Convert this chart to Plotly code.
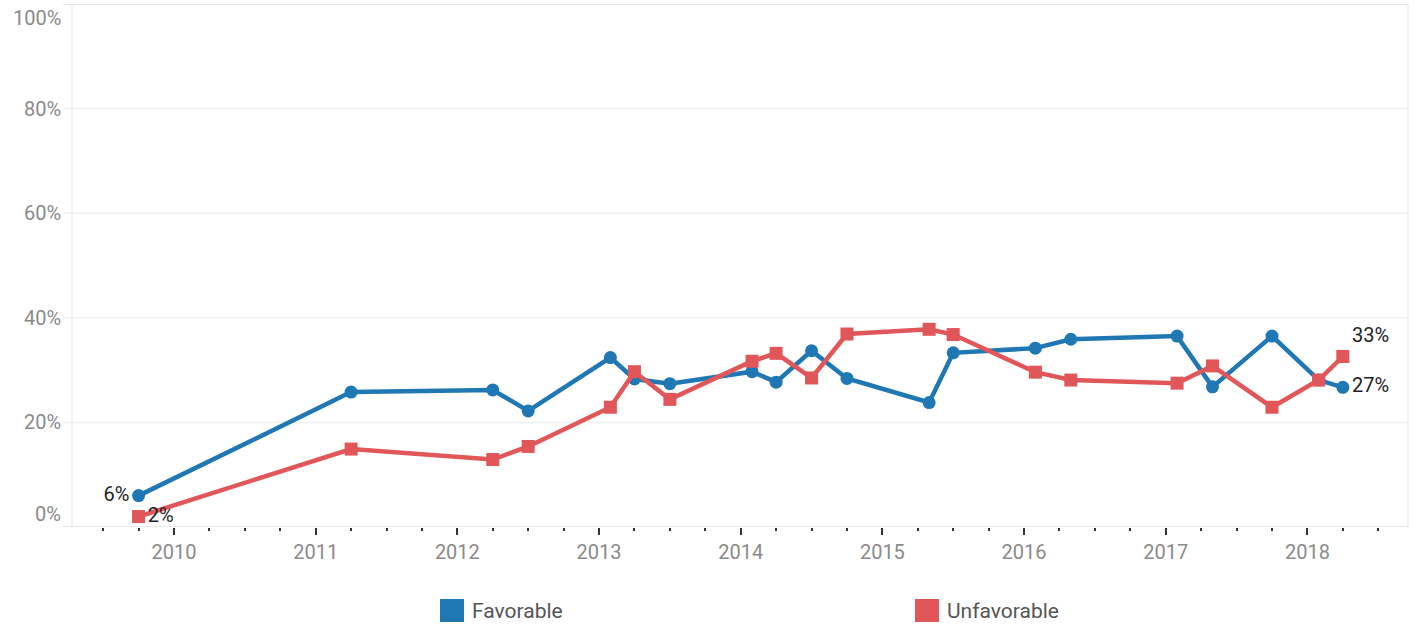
import plotly.graph_objects as go

# ---- data ----
fav_x = [2009.75, 2011.25, 2012.25, 2012.5, 2013.08, 2013.25, 2013.5, 2014.08, 2014.25, 2014.5,
         2014.75, 2015.33, 2015.5, 2016.08, 2016.33, 2017.08, 2017.33, 2017.75, 2018.08, 2018.25]
fav_y = [6.0, 25.8, 26.2, 22.2, 32.4, 28.3, 27.4, 29.7, 27.7, 33.7,
         28.4, 23.8, 33.3, 34.2, 35.9, 36.5, 26.8, 36.5, 28.1, 26.7]
unf_x = fav_x
unf_y = [2.0, 14.9, 12.9, 15.4, 22.9, 29.7, 24.4, 31.7, 33.2, 28.5,
         36.9, 37.8, 36.8, 29.6, 28.1, 27.5, 30.8, 22.9, 28.1, 32.6]
series_names = ["Favorable", "Unfavorable"]
colors = ["#1F77B4", "#E15759"]
y_ticks = [0, 20, 40, 60, 80, 100]
y_tick_labels = ["0%", "20%", "40%", "60%", "80%", "100%"]
x_years = list(range(2010, 2019))

FONT = "Roboto"
PLOT_W = 1417 - 72 - 9
px = 1.0 / PLOT_W

def labels(vals, keep):
    return [f"{round(v)}%" if i in keep else "" for i, v in enumerate(vals)]

n = len(fav_x)
fav_pos = ["middle left" if i == 0 else "middle right" for i in range(n)]
unf_pos = ["middle right" if i == 0 else "top right" for i in range(n)]

fig = go.Figure()
fig.add_trace(go.Scatter(
    x=fav_x, y=fav_y, mode="lines+markers+text", name=series_names[0],
    line=dict(color=colors[0], width=4.5),
    marker=dict(symbol="circle", size=13, color=colors[0]),
    text=labels(fav_y, {0, n - 1}), textposition=fav_pos,
    textfont=dict(family=FONT, size=20, color="#222222"),
    showlegend=False, cliponaxis=False,
))
fig.add_trace(go.Scatter(
    x=unf_x, y=unf_y, mode="lines+markers+text", name=series_names[1],
    line=dict(color=colors[1], width=4.5),
    marker=dict(symbol="square", size=13, color=colors[1]),
    text=labels(unf_y, {0, n - 1}), textposition=unf_pos,
    textfont=dict(family=FONT, size=20, color="#222222"),
    showlegend=False, cliponaxis=False,
))

shapes = []
# horizontal grid / border lines extending a bit left of the plot
for v in y_ticks:
    col = "#f0f0f0" if v not in (0, 100) else "#e0e0e0"
    shapes.append(dict(type="line", xref="paper", yref="y", x0=-9 * px, x1=1, y0=v, y1=v,
                       line=dict(color=col, width=1.5), layer="below"))
# vertical borders
for xv in (0, 1):
    shapes.append(dict(type="line", xref="paper", yref="paper", x0=xv, x1=xv, y0=0, y1=1,
                       line=dict(color="#e6e6e6", width=1), layer="below"))

annotations = []
for v, t in zip(y_ticks, y_tick_labels):
    shift = 13 if v == 0 else (-14 if v == 100 else 0)
    annotations.append(dict(x=-9 * px, xref="paper", y=v, yref="y", yshift=shift,
                            text=t, showarrow=False, xanchor="right", yanchor="middle",
                            font=dict(family=FONT, size=20, color="#8a8a8a")))

# custom legend
leg_x = [440, 915]
for name, col, lx in zip(series_names, colors, leg_x):
    x0 = (lx - 72) * px
    shapes.append(dict(type="rect", xref="paper", yref="paper",
                       x0=x0, x1=x0 + 24 * px, y0=(527 - 622) / 523, y1=(527 - 599) / 523,
                       fillcolor=col, line=dict(width=0)))
    annotations.append(dict(x=x0 + 30 * px, xref="paper", y=(527 - 611) / 523, yref="paper",
                            text=name, showarrow=False, xanchor="left", yanchor="middle",
                            font=dict(family=FONT, size=21, color="#555555")))

fig.update_layout(
    width=1417, height=626,
    margin=dict(l=72, r=9, t=4, b=99),
    paper_bgcolor="white", plot_bgcolor="white",
    shapes=shapes, annotations=annotations,
    xaxis=dict(
        range=[2009.28, 2018.71], tickmode="array", tickvals=x_years,
        ticktext=[str(y) for y in x_years],
        showgrid=False, zeroline=False, showline=False,
        ticks="outside", ticklen=7, tickwidth=2, tickcolor="#333333",
        tickfont=dict(family=FONT, size=20, color="#8a8a8a"),
        minor=dict(ticks="outside", ticklen=3, tickwidth=2, tickcolor="#333333",
                   dtick=0.25, tick0=2010, showgrid=False),
    ),
    yaxis=dict(range=[0, 100], showgrid=False, zeroline=False, showline=False,
               showticklabels=False, ticks=""),
)

fig.write_html("out.html", config={"displayModeBar": False},
               post_script="document.body.style.margin='0';document.body.style.padding='0';")
